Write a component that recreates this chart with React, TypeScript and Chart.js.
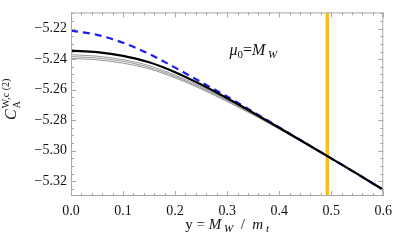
import React, { useEffect, useRef } from 'react';
import { Chart, registerables } from 'chart.js';

Chart.register(...registerables);

// ---- data ----
const xValues = [0, 0.05, 0.1, 0.15, 0.2, 0.25, 0.3, 0.35, 0.4, 0.45, 0.5, 0.55, 0.6];
const blackCurve = [-5.2344, -5.2354, -5.2378, -5.2420, -5.2485, -5.2566, -5.2656, -5.2751, -5.2849, -5.2949, -5.3050, -5.3152, -5.3256];
const grayCurve1 = [-5.2371, -5.2380, -5.2403, -5.2442, -5.2504, -5.2580, -5.2665, -5.2757, -5.2852, -5.2951, -5.3051, -5.3153, -5.3256];
const grayCurve2 = [-5.2383, -5.2392, -5.2414, -5.2453, -5.2513, -5.2588, -5.2671, -5.2761, -5.2855, -5.2953, -5.3052, -5.3153, -5.3257];
const grayCurve3 = [-5.2395, -5.2404, -5.2426, -5.2463, -5.2522, -5.2595, -5.2678, -5.2765, -5.2858, -5.2955, -5.3054, -5.3154, -5.3257];
const blueDashed = [-5.2212, -5.2240, -5.2292, -5.2365, -5.2455, -5.2550, -5.2645, -5.2745, -5.2847, -5.2949, -5.3050, -5.3152, -5.3256];
const mwOverMt = 0.4925;
const xTicks = [0, 0.1, 0.2, 0.3, 0.4, 0.5, 0.6];
const yTicks = [-5.32, -5.3, -5.28, -5.26, -5.24, -5.22];
const xMin = 0;
const xMax = 0.6;
const yMin = -5.3297;
const yMax = -5.2093;
const labelPos = { x: 0.3044, y: -5.2371 };

const SERIF = '"Liberation Serif", "DejaVu Serif", serif';

type Part = { t: string; italic?: boolean; size: number; dy?: number };

function partsWidth(ctx: CanvasRenderingContext2D, parts: Part[]) {
  let w = 0;
  for (const p of parts) {
    ctx.font = `${p.italic ? 'italic ' : ''}${p.size}px ${SERIF}`;
    w += ctx.measureText(p.t).width;
  }
  return w;
}

function drawParts(ctx: CanvasRenderingContext2D, parts: Part[], x: number, y: number) {
  let cx = x;
  for (const p of parts) {
    ctx.font = `${p.italic ? 'italic ' : ''}${p.size}px ${SERIF}`;
    ctx.fillText(p.t, cx, y + (p.dy || 0));
    cx += ctx.measureText(p.t).width;
  }
}

const framePlugin = {
  id: 'frameTicks',
  afterDatasetsDraw(chart: any) {
    const { ctx, chartArea: a, scales } = chart;
    const xs = scales.x;
    const ys = scales.y;
    ctx.save();
    ctx.strokeStyle = '#a8a8a8';
    ctx.lineWidth = 1;
    ctx.strokeRect(a.left + 0.5, a.top + 0.5, a.right - a.left - 1, a.bottom - a.top - 1);
    ctx.beginPath();
    for (let i = 0; i <= 30; i++) {
      const v = i * 0.02;
      const px = Math.round(xs.getPixelForValue(v)) + 0.5;
      const len = i % 5 === 0 ? 5 : 3;
      ctx.moveTo(px, a.bottom);
      ctx.lineTo(px, a.bottom - len);
      ctx.moveTo(px, a.top);
      ctx.lineTo(px, a.top + len);
    }
    for (let i = -1068; i <= -1040; i++) {
      const v = i * 0.005;
      if (v < yMin || v > yMax) continue;
      const py = Math.round(ys.getPixelForValue(v)) + 0.5;
      const len = i % 4 === 0 ? 5 : 3;
      ctx.moveTo(a.left, py);
      ctx.lineTo(a.left + len, py);
      ctx.moveTo(a.right, py);
      ctx.lineTo(a.right - len, py);
    }
    ctx.stroke();
    ctx.restore();
  },
  afterDraw(chart: any) {
    const { ctx, chartArea: a, scales } = chart;
    ctx.save();
    ctx.fillStyle = '#111';
    ctx.textBaseline = 'alphabetic';
    // x axis title
    const xt: Part[] = [
      { t: 'y = ', size: 15 },
      { t: 'M', italic: true, size: 15 },
      { t: ' W', italic: true, size: 11, dy: 3 },
      { t: '  /  ', size: 15 },
      { t: 'm', italic: true, size: 15 },
      { t: ' t', italic: true, size: 11, dy: 3 },
    ];
    const w = partsWidth(ctx, xt);
    drawParts(ctx, xt, (a.left + a.right) / 2 - w / 2, 229);
    // y axis title (rotated)
    ctx.save();
    ctx.translate(16, 120);
    ctx.rotate(-Math.PI / 2);
    ctx.font = `italic 16px ${SERIF}`;
    ctx.fillText('C', 0, 0);
    const cw = ctx.measureText('C').width + 1;
    ctx.font = `10px ${SERIF}`;
    ctx.fillText('A', cw, 4);
    ctx.fillText('W,c (2)', cw, -7);
    ctx.restore();
    // annotation
    const lx = scales.x.getPixelForValue(labelPos.x);
    const ly = scales.y.getPixelForValue(labelPos.y);
    drawParts(ctx, [
      { t: 'μ', italic: true, size: 16 },
      { t: '0', size: 11, dy: 3 },
      { t: '=', size: 16 },
      { t: 'M', italic: true, size: 16 },
      { t: ' W', italic: true, size: 11, dy: 3 },
    ], lx, ly);
    ctx.restore();
  },
};

const toXY = (ys: number[]) => xValues.map((x, i) => ({ x, y: ys[i] }));

export default function App() {
  const ref = useRef<HTMLCanvasElement | null>(null);
  useEffect(() => {
    document.body.style.margin = '0';
    const canvas = ref.current;
    if (!canvas) return;
    const common = { pointRadius: 0, fill: false, cubicInterpolationMode: 'monotone' as const };
    const chart = new Chart(canvas, {
      type: 'line',
      data: {
        datasets: [
          { ...common, data: toXY(blackCurve), borderColor: '#000', borderWidth: 2.2 },
          { ...common, data: toXY(blueDashed), borderColor: '#1c1cf5', borderWidth: 2.2, borderDash: [7, 5] },
          { ...common, data: toXY(grayCurve1), borderColor: '#8a8a8a', borderWidth: 0.9 },
          { ...common, data: toXY(grayCurve2), borderColor: '#8a8a8a', borderWidth: 0.9 },
          { ...common, data: toXY(grayCurve3), borderColor: '#8a8a8a', borderWidth: 0.9 },
          {
            pointRadius: 0,
            data: [{ x: mwOverMt, y: yMin }, { x: mwOverMt, y: yMax }],
            borderColor: '#ffc000',
            borderWidth: 3.5,
          },
        ],
      },
      options: {
        responsive: false,
        animation: false,
        events: [],
        layout: { padding: { left: 0, right: 11, top: 1, bottom: 0 } },
        plugins: { legend: { display: false }, tooltip: { enabled: false } },
        scales: {
          x: {
            type: 'linear',
            min: xMin,
            max: xMax,
            grid: { display: false, drawTicks: false },
            border: { display: false },
            afterBuildTicks: (s: any) => { s.ticks = xTicks.map((v) => ({ value: v })); },
            afterFit: (s: any) => { s.height = 45; },
            ticks: {
              padding: 7,
              color: '#111',
              font: { family: SERIF, size: 14 },
              maxRotation: 0,
              callback: (v: any) => Number(v).toFixed(1),
            },
          },
          y: {
            type: 'linear',
            min: yMin,
            max: yMax,
            grid: { display: false, drawTicks: false },
            border: { display: false },
            afterBuildTicks: (s: any) => { s.ticks = yTicks.map((v) => ({ value: v })); },
            afterFit: (s: any) => { s.width = 71; },
            ticks: {
              padding: 4,
              color: '#111',
              font: { family: SERIF, size: 14 },
              callback: (v: any) => '\u2212' + Math.abs(Number(v)).toFixed(2),
            },
          },
        },
      },
      plugins: [framePlugin],
    } as any);
    return () => chart.destroy();
  }, []);
  return <canvas ref={ref} width={399} height={241} style={{ display: 'block' }} />;
}
